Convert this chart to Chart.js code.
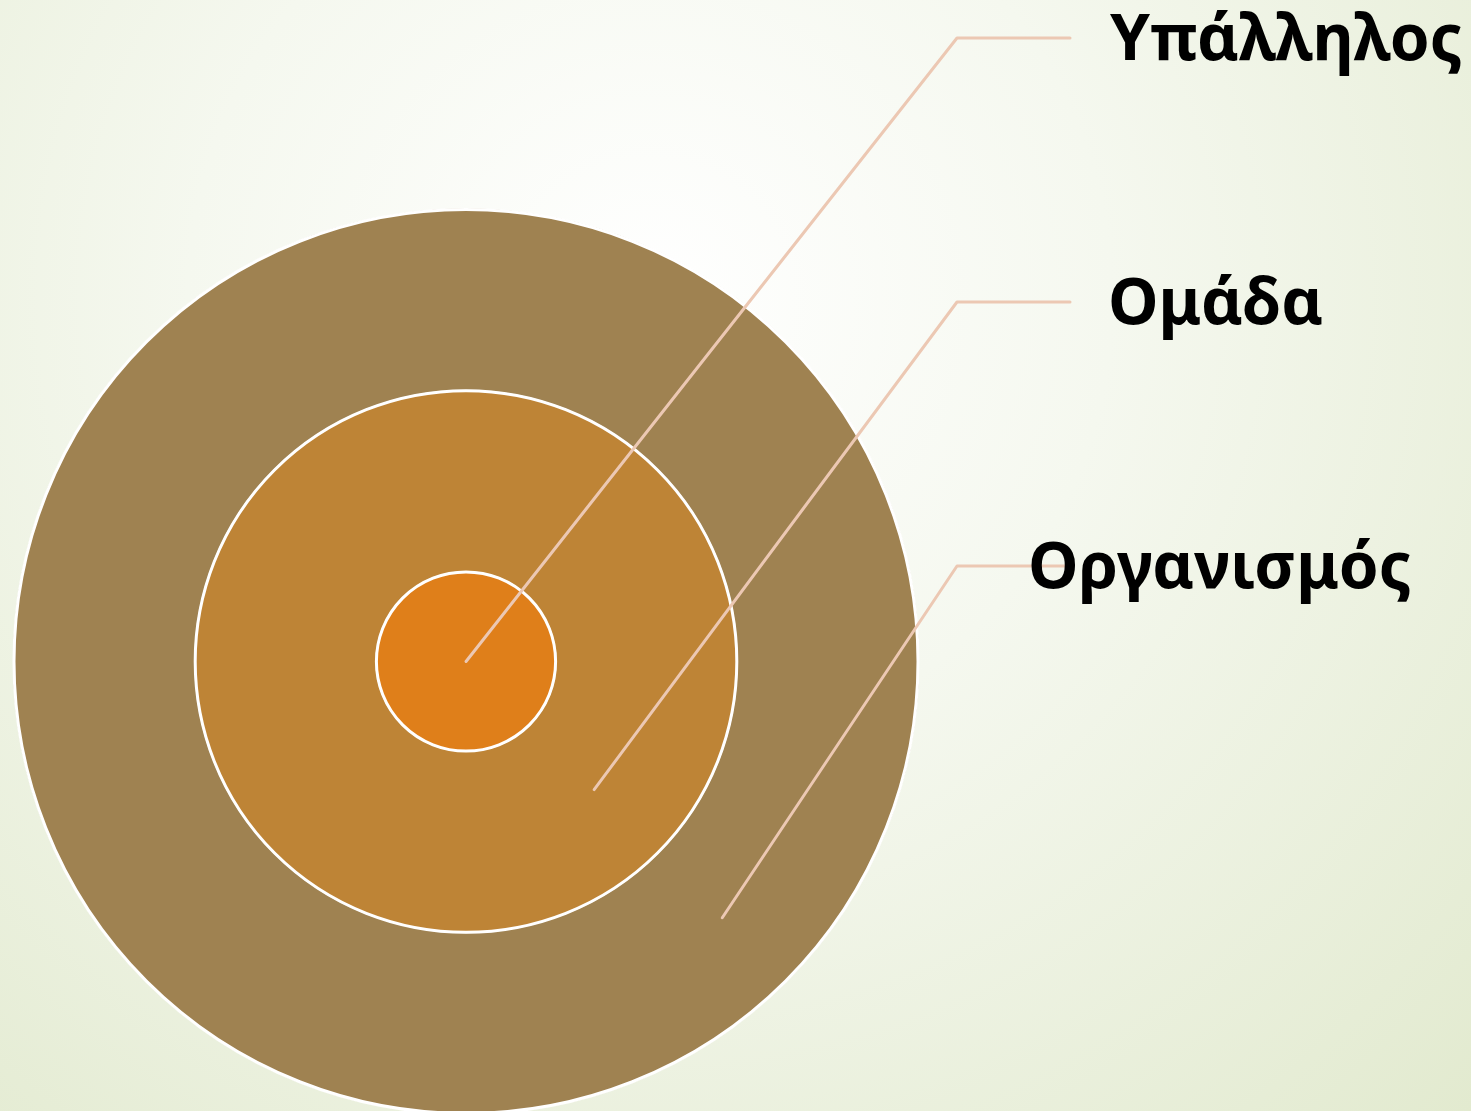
<!DOCTYPE html>
<html lang="el">
<head>
<meta charset="utf-8">
<title>Υπάλληλος – Ομάδα – Οργανισμός</title>
<script src="https://cdn.jsdelivr.net/npm/chart.js@4.4.1/dist/chart.umd.min.js"></script>
<style>
    html, body {
        margin: 0;
        padding: 0;
        width: 1471px;
        height: 1111px;
        overflow: hidden;
    }
    body {
        position: relative;
        background: radial-gradient(circle farthest-corner at 650px 300px, #ffffff 0%, #f5f8ef 40%, #e2eacf 100%);
        font-family: "Noto Sans", "DejaVu Sans", sans-serif;
    }
    #wrap {
        position: absolute;
        left: 0;
        top: 0;
        width: 1471px;
        height: 1116px;   /* bottom of the big circle is cut by the page edge */
    }
    .ring-label {
        position: absolute;
        font-size: 64px;
        line-height: 64px;
        font-weight: bold;
        color: #000;
        white-space: nowrap;
    }
</style>
</head>
<body>
<div id="wrap"><canvas id="rings"></canvas></div>

<script>
// outer → inner
const categories  = ['Οργανισμός', 'Ομάδα', 'Υπάλληλος'];
// circle size of each level, % of the outer circle
const levelValues = [100, 60, 20];

const ringColors  = ['#9f8251', '#be8436', '#df7f1a'];
const leaderColor = '#ecc8b3';

/* ── Label layout (right hand side) ───────────────────────────── */
const LABEL_TOP   = 38;     // y of the top leader row
const LABEL_STEP  = 264;    // distance between rows
const ELBOW_X     = 957;
const LEADER_END  = 1070;
const FONT_PX     = 64;
const labelLeft   = { 'Υπάλληλος': 1110, 'Ομάδα': 1108, 'Οργανισμός': 1028 };

// row index counted from the top: inner circle gets the top row
const rowOf = i => categories.length - 1 - i;
const rowY  = i => LABEL_TOP + rowOf(i) * LABEL_STEP;

// ring thickness = difference to the next smaller circle
const weights = levelValues.map((v, i) => v - (levelValues[i + 1] || 0));

const ringBorders = {
    id: 'ringBorders',
    afterDatasetsDraw(chart) {
        const ctx = chart.ctx;
        ctx.save();
        ctx.strokeStyle = '#ffffff';
        ctx.lineWidth = 3;
        chart.data.datasets.forEach((_, i) => {
            const arc = chart.getDatasetMeta(i).data[0];
            if (!arc) return;
            ctx.beginPath();
            ctx.arc(arc.x, arc.y, arc.outerRadius - 1, 0, Math.PI * 2);
            ctx.stroke();
        });
        ctx.restore();
    }
};

const leaderLines = {
    id: 'leaderLines',
    afterDraw(chart) {
        const ctx = chart.ctx;
        const ang = Math.PI / 4;
        ctx.save();
        ctx.strokeStyle = leaderColor;
        ctx.lineWidth = 3;
        ctx.lineCap = 'round';
        ctx.lineJoin = 'round';
        chart.data.datasets.forEach((_, i) => {
            const arc = chart.getDatasetMeta(i).data[0];
            if (!arc) return;
            // the innermost circle is a full disc: its line starts at the centre
            const r = arc.innerRadius > 1 ? (arc.innerRadius + arc.outerRadius) / 2 : 0;
            const y = rowY(i);
            ctx.beginPath();
            ctx.moveTo(arc.x + r * Math.cos(ang), arc.y + r * Math.sin(ang));
            ctx.lineTo(ELBOW_X, y);
            ctx.lineTo(LEADER_END, y);
            ctx.stroke();
        });
        ctx.restore();
    }
};

// text labels as real DOM text
categories.forEach((name, i) => {
    const el = document.createElement('div');
    el.className = 'ring-label';
    el.textContent = name;
    el.style.left = labelLeft[name] + 'px';
    el.style.top = (rowY(i) - FONT_PX * 0.53) + 'px';
    document.body.appendChild(el);
});

new Chart(document.getElementById('rings'), {
    type: 'doughnut',
    data: {
        labels: ['level'],
        datasets: categories.map((name, i) => ({
            label: name,
            data: [1],
            weight: weights[i],
            backgroundColor: ringColors[i],
            borderWidth: 0
        }))
    },
    options: {
        responsive: true,
        maintainAspectRatio: false,
        animation: false,
        cutout: 0,
        layout: { padding: { left: 13, top: 207, right: 552, bottom: 0 } },
        plugins: {
            legend: { display: false },
            tooltip: { enabled: false }
        }
    },
    plugins: [ringBorders, leaderLines]
});
</script>
</body>
</html>
